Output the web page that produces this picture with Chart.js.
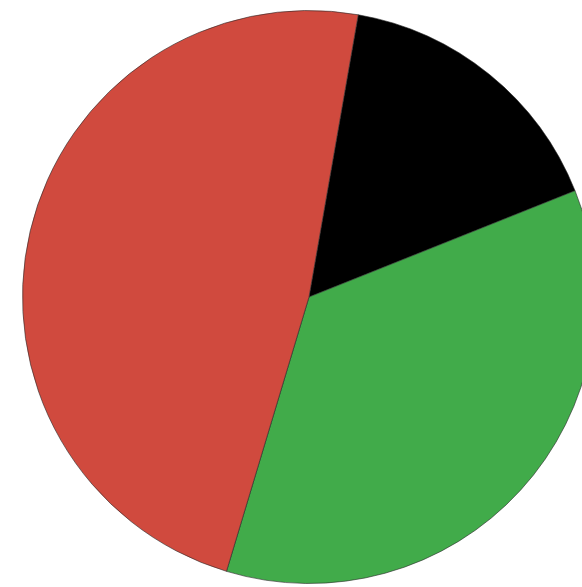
<!DOCTYPE html>
<html>
<head>
<meta charset="utf-8">
<script src="https://cdn.jsdelivr.net/npm/chart.js@4"></script>
<style>
  html, body { margin: 0; padding: 0; background: #fff; overflow: hidden; width: 582px; height: 587px; }
  #c { display: block; position: absolute; left: 0; top: 0; }
</style>
</head>
<body>
<canvas id="c" width="618" height="587"></canvas>
<script>
const categories = ["Black", "Green", "Red"];
const values = [16.2, 35.7, 48.1];
const colors = ["#000000", "#41ab4a", "#d04a3e"];

new Chart(document.getElementById("c"), {
  type: "pie",
  data: {
    labels: categories,
    datasets: [{
      data: values,
      backgroundColor: colors,
      borderColor: "rgba(40,40,40,0.6)",
      borderWidth: 1
    }]
  },
  options: {
    responsive: false,
    animation: false,
    rotation: 9.9,
    layout: { padding: { top: 10, bottom: 3, left: 0, right: 0 } },
    plugins: {
      legend: { display: false },
      tooltip: { enabled: false }
    }
  }
});
</script>
</body>
</html>
